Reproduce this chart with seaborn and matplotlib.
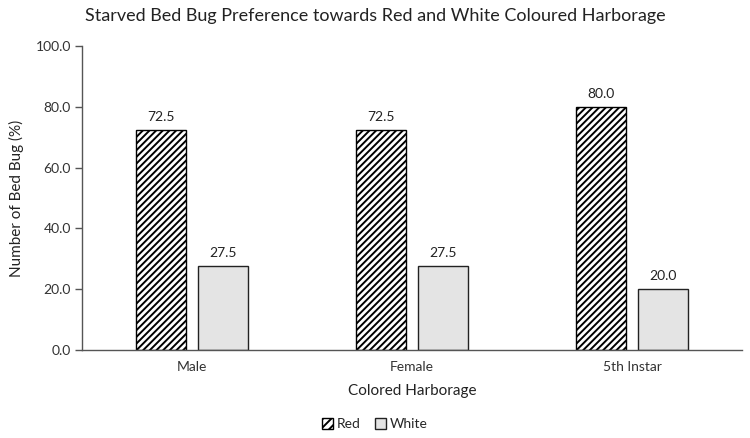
import matplotlib
matplotlib.use("Agg")
import matplotlib.pyplot as plt
import seaborn as sns
import pandas as pd

categories = ["Male", "Female", "5th Instar"]
series_names = ["Red", "White"]
red_values = [72.5, 72.5, 80.0]
white_values = [27.5, 27.5, 20.0]
y_ticks = [0, 20, 40, 60, 80, 100]

df = pd.DataFrame({
    "Category": categories * 2,
    "Series": [series_names[0]] * 3 + [series_names[1]] * 3,
    "Value": red_values + white_values,
})

sns.set_theme(style="white")
plt.rcParams["font.family"] = ["Lato", "DejaVu Sans"]
plt.rcParams["hatch.linewidth"] = 1.4

fig = plt.figure(figsize=(7.5, 4.38), dpi=100)
ax = fig.add_axes([82 / 750, 1 - 350 / 438, 660 / 750, 304 / 438])

palette = {"Red": "white", "White": "#e4e4e4"}
sns.barplot(data=df, x="Category", y="Value", hue="Series", order=categories,
            hue_order=series_names, palette=palette, width=0.568, gap=0.2,
            edgecolor="#222222", linewidth=1.0, legend=False, ax=ax)

for cont, name in zip(ax.containers, series_names):
    for p in cont:
        if name == "Red":
            p.set_hatch("/////")
            p.set_edgecolor("black")
    ax.bar_label(cont, fmt="%.1f", padding=5, fontsize=10, color="#222222")

ax.set_xlim(-0.5, 2.5)
ax.set_ylim(0, 100)
ax.set_yticks(y_ticks)
ax.set_yticklabels([f"{v:.1f}" for v in y_ticks], fontsize=10, color="#333333")
ax.tick_params(axis="x", labelsize=10, colors="#333333", length=0, pad=8)
ax.tick_params(axis="y", direction="out", length=5, width=1, color="#555555", left=True, pad=3)
for s in ["top", "right"]:
    ax.spines[s].set_visible(False)
ax.spines["left"].set_color("#555555")
ax.spines["bottom"].set_color("#555555")
ax.spines["left"].set_linewidth(1)
ax.spines["bottom"].set_linewidth(1)

ax.set_xlabel("Colored Harborage", fontsize=11, color="#222222", labelpad=8)
ax.set_ylabel("Number of Bed Bug (%)", fontsize=11, color="#222222", labelpad=8)

fig.text(0.5, 1 - 16 / 438, "Starved Bed Bug Preference towards Red and White Coloured Harborage",
         ha="center", va="center", fontsize=13, color="#222222")

from matplotlib.patches import Patch
handles = [Patch(facecolor="white", edgecolor="black", hatch="////", label="Red"),
           Patch(facecolor="#e4e4e4", edgecolor="#222222", label="White")]
fig.legend(handles=handles, loc="center", bbox_to_anchor=(0.5, 1 - 424 / 438), ncol=2,
           frameon=False, fontsize=10, handlelength=0.8, handleheight=0.8,
           handletextpad=0.3, columnspacing=1.0)

fig.savefig("out.png", dpi=100)
